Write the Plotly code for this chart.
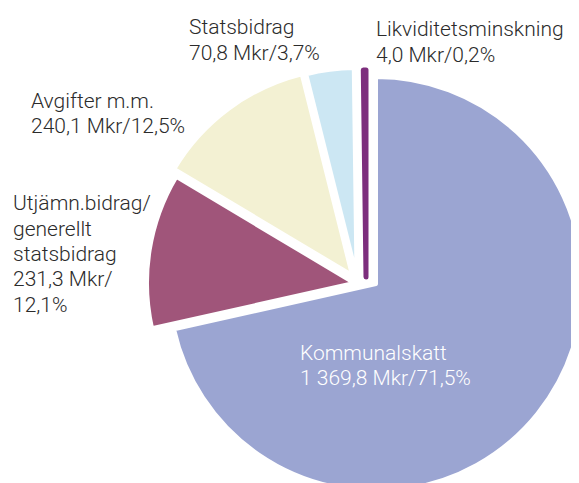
import plotly.graph_objects as go

# ---- data ----
categories = ["Kommunalskatt", "Utjämn.bidrag/generellt statsbidrag",
              "Avgifter m.m.", "Statsbidrag", "Likviditetsminskning"]
values_mkr = [1369.8, 231.3, 240.1, 70.8, 4.0]
percent = [71.5, 12.1, 12.5, 3.7, 0.2]
label_lines = [["Kommunalskatt"],
               ["Utjämn.bidrag/", "generellt", "statsbidrag"],
               ["Avgifter m.m."],
               ["Statsbidrag"],
               ["Likviditetsminskning"]]
split_value = [False, True, False, False, False]

# ---- style ----
colors = ["#9BA5D2", "#A0557A", "#F3F1D3", "#CCE7F3", "#7D2E7D"]
line_colors = ["white", "white", "white", "white", "#7D2E7D"]
line_widths = [4, 4, 4, 4, 5]
dark = "#2b2b2b"
text_colors = ["white", dark, dark, dark, dark]

OFF = 8  # page body margin
W, H = 600, 500
R = 207
apex = [(376, 284), (354, 283), (352, 275), (356.5, 275), (366, 277)]
label_pos = [(298, 360), (11, 210.5), (29, 108), (187, 34.5), (374, 36.5)]
line_gap = 25.3
FS = 21


def sv(x):
    return f"{x:,.1f}".replace(",", " ").replace(".", ",")


fig = go.Figure()
n = len(values_mkr)
for i in range(n):
    ax, ay = apex[i][0] - OFF, apex[i][1] - OFF
    fig.add_trace(go.Pie(
        values=values_mkr,
        labels=categories,
        sort=False,
        direction="clockwise",
        rotation=0,
        textinfo="none",
        hoverinfo="skip",
        showlegend=False,
        marker=dict(
            colors=[colors[j] if j == i else "rgba(0,0,0,0)" for j in range(n)],
            line=dict(color=[line_colors[j] if j == i else "rgba(0,0,0,0)" for j in range(n)],
                      width=[line_widths[j] if j == i else 0 for j in range(n)]),
        ),
        domain=dict(x=[(ax - R) / W, (ax + R) / W],
                    y=[1 - (ay + R) / H, 1 - (ay - R) / H]),
    ))

annotations = []
for i in range(n):
    lines = list(label_lines[i])
    if split_value[i]:
        lines += [f"{sv(values_mkr[i])} Mkr/", f"{sv(percent[i])}%"]
    else:
        lines += [f"{sv(values_mkr[i])} Mkr/{sv(percent[i])}%"]
    x0, b0 = label_pos[i][0] - OFF, label_pos[i][1] - OFF
    for k, t in enumerate(lines):
        base = b0 + k * line_gap
        annotations.append(dict(
            text=t, xref="paper", yref="paper",
            x=x0 / W, y=1 - (base - 0.342 * FS) / H,
            xanchor="left", yanchor="middle", showarrow=False,
            align="left",
            font=dict(family="Roboto", size=FS, color=text_colors[i], weight=300),
        ))

fig.update_layout(
    width=W, height=H, autosize=False,
    margin=dict(l=0, r=0, t=0, b=0),
    paper_bgcolor="white", plot_bgcolor="white",
    annotations=annotations,
    showlegend=False,
)

fig.write_html("out.html")
